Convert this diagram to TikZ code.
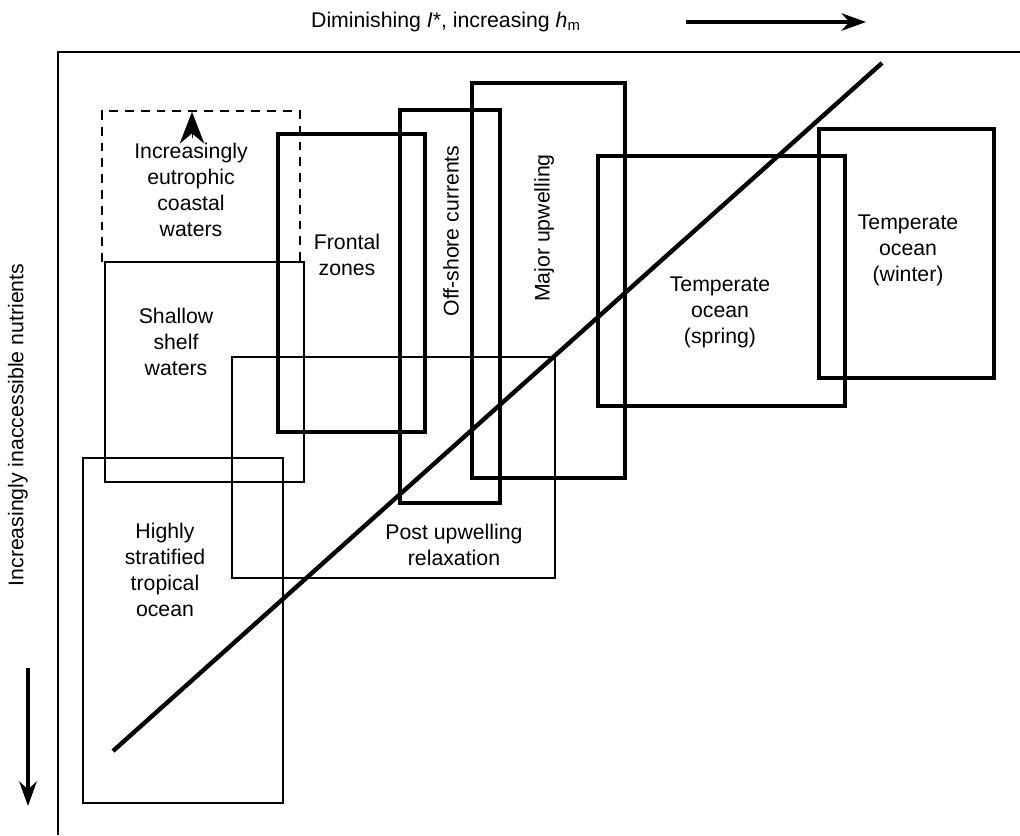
\documentclass[tikz,border=0pt]{standalone}
\usepackage{fontspec}
\setmainfont{Liberation Sans}
\usetikzlibrary{arrows.meta}

\tikzset{
  thinbox/.style={line width=1.1pt},
  thickbox/.style={line width=2.3pt},
  lbl/.style={align=center, font=\fontsize{12.1}{14.8}\selectfont},
}

\begin{document}
\begin{tikzpicture}[x=0.02cm, y=-0.02cm]
  \useasboundingbox (0,0) rectangle (1020,835);
  % axes and their labels
  \draw[line width=1.7pt] (1020,52) -- (58,52) -- (58,835);
  \node[lbl] (xlab) at (446,22) {Diminishing \textit{I}*, increasing \textit{h}\textsubscript{m}};
  \coordinate (xa) at (686,22);
  \coordinate (xb) at (866,22);
  \draw[line width=1.8pt, -{Stealth[length=14pt, width=10pt]}] (xa) -- (xb);
  \node[lbl, rotate=90] (ylab) at (18,425) {Increasingly inaccessible nutrients};
  \coordinate (ya) at (28,668);
  \coordinate (yb) at (28,806);
  \draw[line width=1.8pt, -{Stealth[length=14pt, width=10pt]}] (ya) -- (yb);

  % thin boxes
  \draw[thinbox, dashed, dash pattern=on 5pt off 4pt] (102,262) -- (102,111) -- (300,111) -- (300,262);
  \draw[thinbox] (105,262) rectangle (304,482);
  \draw[thinbox] (232,357) rectangle (555,578);
  \draw[thinbox] (83,458) rectangle (283,803);
  % thick boxes
  \draw[thickbox] (278,134) rectangle (425,432);
  \draw[thickbox] (400,110) rectangle (500,503);
  \draw[thickbox] (472,83) rectangle (625,478);
  \draw[thickbox] (598,156) rectangle (845,406);
  \draw[thickbox] (819,129) rectangle (994,378);

  % trend line
  \coordinate (lo) at (113,751);
  \coordinate (hi) at (882,63);
  \draw[line width=2.5pt] (lo) -- (hi);

  \coordinate (ua) at (192,138);
  \coordinate (ub) at (192,112);
  \draw[line width=0.1pt, -{Stealth[length=18pt, width=14pt]}] (ua) -- (ub);

  \node[lbl] (eutro) at (191,190) {Increasingly\\eutrophic\\coastal\\waters};
  \node[lbl] (shelf) at (176,342) {Shallow\\shelf\\waters};
  \node[lbl] (front) at (347,255) {Frontal\\zones};
  \node[lbl, rotate=90] (offsh) at (451,231) {Off-shore currents};
  \node[lbl, rotate=90] (upwel) at (544,228) {Major upwelling};
  \node[lbl] (spring) at (720,312) {Temperate\\ocean\\(spring)};
  \node[lbl] (winter) at (908,250) {Temperate\\ocean\\(winter)};
  \node[lbl] (relax) at (454,545) {Post upwelling\\relaxation};
  \node[lbl] (tropic) at (165,570) {Highly\\stratified\\tropical\\ocean};
\end{tikzpicture}
\end{document}
